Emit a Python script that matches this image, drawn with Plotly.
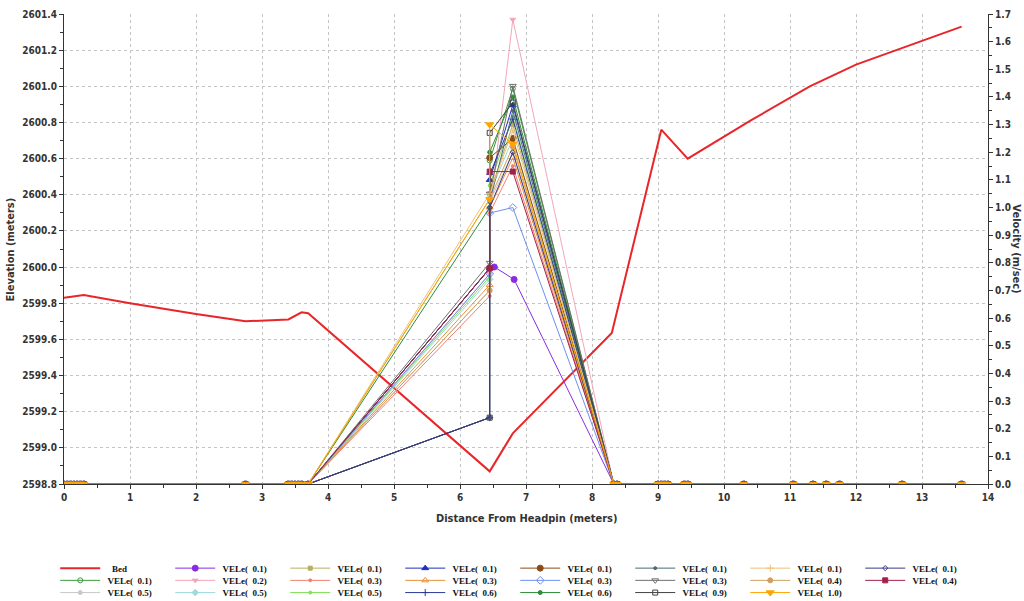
import plotly.graph_objects as go

# ---- bed profile (elevation, m) ----
BED_X = [0.0, 0.3, 1.0, 2.0, 2.75, 3.4, 3.6, 3.7, 6.45, 6.8, 8.3, 9.05, 9.45, 10.4, 11.3, 12.0, 13.6]
BED_Z = [2599.83, 2599.845, 2599.80, 2599.74, 2599.70, 2599.71, 2599.75, 2599.745,
         2598.87, 2599.08, 2599.635, 2600.76, 2600.60, 2600.81, 2601.00, 2601.12, 2601.33]

# ---- velocity stations with zero velocity (m) ----
ZERO_LEFT_X = [0.0, 0.05, 0.1, 0.15, 0.2, 0.25, 0.3, 2.75, 3.4, 3.45, 3.5, 3.55, 3.6, 3.7]
ZERO_RIGHT_X = [8.33, 8.38, 9.0, 9.05, 9.1, 9.15, 9.4, 9.45, 10.3, 11.05, 11.35, 11.55, 11.75, 12.7, 13.6]

# ---- velocity series (m/sec) ----
VEL_LABELS = ["0.1", "0.5", "0.1", "0.2", "0.5", "0.1", "0.3", "0.5", "0.1", "0.3", "0.6",
              "0.1", "0.3", "0.6", "0.1", "0.3", "0.9", "0.1", "0.4", "1.0", "0.1", "0.4"]
VEL_ENTRY = [0.78, 0.70, 0.78, 0.76, 0.74, 1.03, 0.68, 0.75, 0.78, 0.72, 0.24,
             0.78, 0.76, 1.00, 0.24, 0.80, 0.24, 1.05, 0.70, 1.03, 0.24, 0.78]
VEL_WALL = [1.17, 1.02, 0.785, 0.98, 1.05, 1.05, 0.98, 1.08, 1.10, 1.00, 1.12,
            1.18, 0.98, 1.20, 1.02, 1.05, 1.27, 1.05, 1.03, 1.30, 1.00, 1.13]
VEL_PEAK = [1.43, 1.20, 0.74, 1.68, 1.25, 1.30, 1.15, 1.33, 1.37, 1.18, 1.32,
            1.25, 1.00, 1.40, 1.35, 1.44, 1.38, 1.28, 1.22, 1.23, 1.20, 1.13]
X_ENTRY = [6.45] * 22
X_WALL = [6.45, 6.45, 6.52, 6.45, 6.45, 6.45, 6.45, 6.45, 6.45, 6.45, 6.45,
          6.45, 6.45, 6.45, 6.45, 6.45, 6.45, 6.45, 6.45, 6.45, 6.45, 6.45]
X_PEAK = [6.8, 6.8, 6.82, 6.8, 6.8, 6.8, 6.8, 6.8, 6.8, 6.8, 6.8,
          6.8, 6.8, 6.8, 6.8, 6.8, 6.8, 6.8, 6.8, 6.8, 6.8, 6.8]

# line colour, marker symbol, marker size, legend row
STYLES = [
    ("#3c9a3c", "circle-open", 5, 2),
    ("#c8c8c8", "circle", 4, 3),
    ("#8a2be2", "circle", 6, 1),
    ("#f4a6b8", "triangle-down", 5, 2),
    ("#9fd9d9", "diamond", 5, 3),
    ("#b5b060", "square", 4, 1),
    ("#f08070", "circle", 3, 2),
    ("#7fe05a", "circle", 3, 3),
    ("#1f2fbf", "triangle-up", 6, 1),
    ("#e8903a", "triangle-up-open", 6, 2),
    ("#2a3a9a", "cross-thin-open", 5, 3),
    ("#8b4a1a", "circle", 6, 1),
    ("#6d8ff0", "diamond-open", 6, 2),
    ("#2e8b3a", "circle", 4, 3),
    ("#4a6a7a", "circle", 3, 1),
    ("#707070", "triangle-down-open", 6, 2),
    ("#404040", "square-open", 5, 3),
    ("#f0c070", "cross-thin-open", 5, 1),
    ("#d0a060", "circle", 5, 2),
    ("#ffa500", "triangle-down", 7, 3),
    ("#3a3a8a", "diamond-open", 4, 1),
    ("#a0204a", "square", 5, 2),
]

AXIS_FONT = dict(family="DejaVu Sans Condensed, Liberation Sans Narrow, sans-serif",
                 size=10, color="#333333", weight="bold")
TITLE_FONT = dict(family="DejaVu Sans Condensed, sans-serif", size=11, color="#333333", weight="bold")
LEGEND_FONT = dict(family="Liberation Serif, serif", size=9, color="#111111", weight="bold")

fig = go.Figure()

fig.add_trace(go.Scatter(
    x=BED_X, y=BED_Z, mode="lines", name="\u00a0\u00a0\u00a0Bed",
    line=dict(color="#e8262a", width=2), legend="legend", legendrank=1,
))

order = list(range(len(VEL_LABELS)))
# draw the 1.0 series last so it sits on top along the zero line
order.remove(19)
order.append(19)
for i in order:
    color, sym, size, row = STYLES[i]
    xs = ZERO_LEFT_X + [X_ENTRY[i], X_WALL[i], X_PEAK[i]] + ZERO_RIGHT_X
    vs = [0.0] * len(ZERO_LEFT_X) + [VEL_ENTRY[i], VEL_WALL[i], VEL_PEAK[i]] + [0.0] * len(ZERO_RIGHT_X)
    fig.add_trace(go.Scatter(
        x=xs, y=vs, yaxis="y2", mode="lines+markers",
        name="\u00a0VELe(\u00a0\u00a0" + VEL_LABELS[i] + ")",
        line=dict(color=color, width=1),
        marker=dict(symbol=sym, size=size, color=color, line=dict(color=color, width=1)),
        legend="legend" if row == 1 else ("legend2" if row == 2 else "legend3"),
        legendrank=10 + i,
    ))

legend_common = dict(
    orientation="h", font=LEGEND_FONT, entrywidth=60, entrywidthmode="pixels",
    itemwidth=40, xanchor="left", yanchor="middle", x=-0.0095,
    bgcolor="rgba(0,0,0,0)", tracegroupgap=0, traceorder="normal",
)

fig.update_layout(
    width=1024, height=601,
    margin=dict(l=64, r=36, t=14, b=117, autoexpand=False),
    paper_bgcolor="white", plot_bgcolor="white",
    showlegend=True,
    legend=dict(y=-0.179, **legend_common),
    legend2=dict(y=-0.205, **legend_common),
    legend3=dict(y=-0.231, **legend_common),
    xaxis=dict(
        range=[0, 14], dtick=1, tick0=0, showgrid=True,
        gridcolor="#c4c4c4", griddash="dot", gridwidth=1,
        showline=True, linecolor="#333333", linewidth=1,
        ticks="outside", ticklen=4, tickcolor="#333333",
        minor=dict(dtick=0.5, ticks="outside", ticklen=3, tickcolor="#333333", showgrid=False),
        tickfont=AXIS_FONT, zeroline=False,
    ),
    yaxis=dict(
        range=[2598.8, 2601.4], dtick=0.2, tick0=2598.8, tickformat=".1f",
        showgrid=True, gridcolor="#c4c4c4", griddash="dot", gridwidth=1,
        showline=True, linecolor="#333333", linewidth=1,
        ticks="outside", ticklen=4, tickcolor="#333333",
        minor=dict(dtick=0.1, ticks="outside", ticklen=3, tickcolor="#333333", showgrid=False),
        tickfont=AXIS_FONT, zeroline=False,
    ),
    yaxis2=dict(
        range=[0, 1.7], dtick=0.1, tick0=0, tickformat=".1f",
        overlaying="y", side="right", showgrid=False,
        showline=True, linecolor="#333333", linewidth=1,
        ticks="outside", ticklen=4, tickcolor="#333333",
        minor=dict(dtick=0.05, ticks="outside", ticklen=3, tickcolor="#333333"),
        tickfont=AXIS_FONT, zeroline=False,
    ),
    annotations=[
        dict(text="Distance From Headpin (meters)", xref="paper", yref="paper",
             x=0.5, y=-0.073, xanchor="center", yanchor="middle",
             showarrow=False, font=TITLE_FONT),
        dict(text="Elevation (meters)", xref="paper", yref="paper",
             x=-0.058, y=0.5, xanchor="center", yanchor="middle",
             textangle=-90, showarrow=False, font=TITLE_FONT),
        dict(text="Velocity (m/sec)", xref="paper", yref="paper",
             x=1.031, y=0.5, xanchor="center", yanchor="middle",
             textangle=90, showarrow=False, font=TITLE_FONT),
    ],
)

fig.write_html("out.html")
